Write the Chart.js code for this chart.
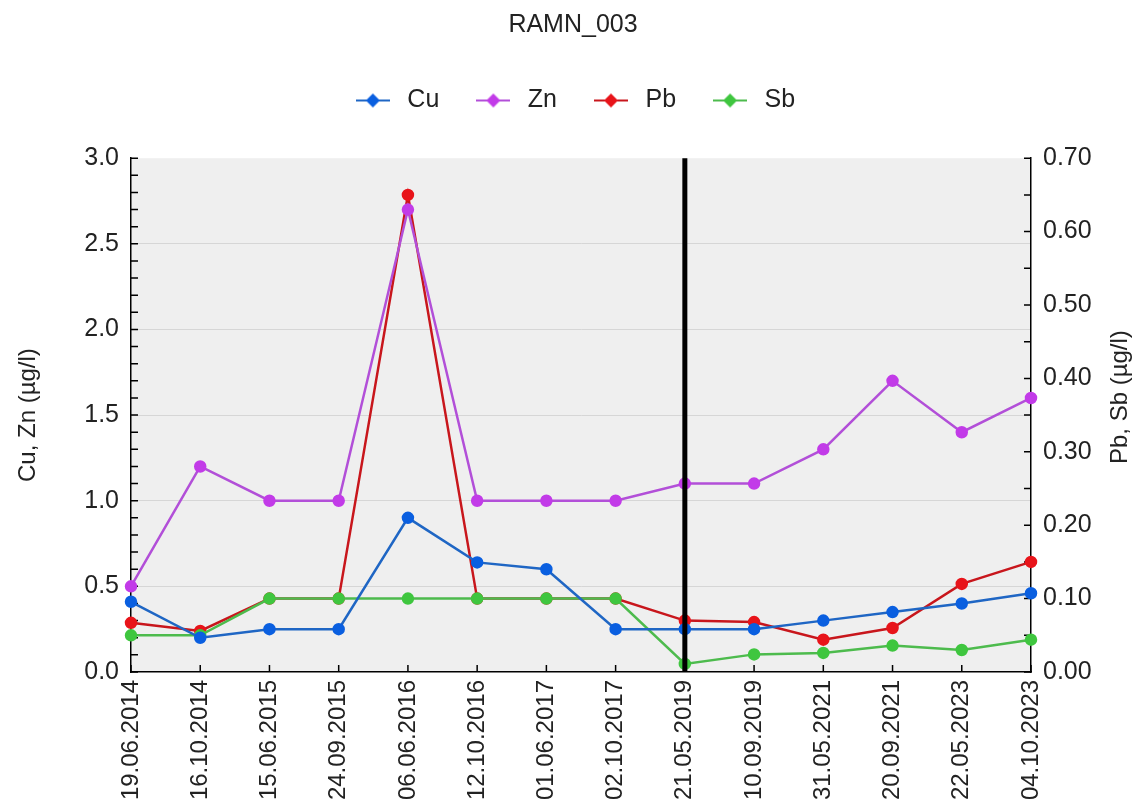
<!DOCTYPE html>
<html>
<head>
<meta charset="utf-8">
<title>RAMN_003</title>
<script src="https://cdn.jsdelivr.net/npm/chart.js@4.4.1/dist/chart.umd.min.js"></script>
<style>
    html, body { margin: 0; padding: 0; background: #ffffff; }
    canvas { display: block; }
</style>
</head>
<body>
<canvas id="grafRamn" width="1146" height="811"></canvas>
<script>
// Datumi vzorčenja (kategorije na osi x)
const sampleDates = [
    "19.06.2014", "16.10.2014", "15.06.2015", "24.09.2015", "06.06.2016",
    "12.10.2016", "01.06.2017", "02.10.2017", "21.05.2019", "10.09.2019",
    "31.05.2021", "20.09.2021", "22.05.2023", "04.10.2023"
];

// Cu in Zn (leva os, µg/l)
const cuValues = [0.41, 0.20, 0.25, 0.25, 0.90, 0.64, 0.60, 0.25, 0.25, 0.25, 0.30, 0.35, 0.40, 0.46];
const znValues = [0.50, 1.20, 1.00, 1.00, 2.70, 1.00, 1.00, 1.00, 1.10, 1.10, 1.30, 1.70, 1.40, 1.60];

// Pb in Sb (desna os, µg/l)
const pbValues = [0.067, 0.056, 0.10, 0.10, 0.65, 0.10, 0.10, 0.10, 0.070, 0.068, 0.044, 0.060, 0.120, 0.150];
const sbValues = [0.050, 0.050, 0.10, 0.10, 0.10, 0.10, 0.10, 0.10, 0.011, 0.024, 0.026, 0.036, 0.030, 0.044];

// Osi
const leftAxisMax = 3.0;
const rightAxisMax = 0.70;
const leftAxisTitle = "Cu, Zn (µg/l)";
const rightAxisTitle = "Pb, Sb (µg/l)";
const chartTitle = "RAMN_003";
const markerDate = "21.05.2019"; // navpična črna črta

const fontFamily = "'Liberation Sans', Arial, sans-serif";
const textColor = "#222222";

// Sivo ozadje risalne površine
const plotBackground = {
    id: "plotBackground",
    beforeDraw(chart) {
        const { ctx, chartArea: a } = chart;
        ctx.save();
        ctx.fillStyle = "#efefef";
        ctx.fillRect(a.left, a.top, a.right - a.left, a.bottom - a.top);
        ctx.restore();
    }
};

// Kratke oznake na osi, obrnjene navznoter
const innerTicks = {
    id: "innerTicks",
    beforeDatasetsDraw(chart) {
        const { ctx, chartArea: a, scales } = chart;
        const len = 7;
        ctx.save();
        ctx.strokeStyle = "#000000";
        ctx.lineWidth = 1.5;
        ctx.beginPath();
        scales.y.ticks.forEach((t, i) => {
            const y = scales.y.getPixelForTick(i);
            ctx.moveTo(a.left, y);
            ctx.lineTo(a.left + len, y);
        });
        scales.y2.ticks.forEach((t, i) => {
            const y = scales.y2.getPixelForTick(i);
            ctx.moveTo(a.right - len, y);
            ctx.lineTo(a.right, y);
        });
        scales.x.ticks.forEach((t, i) => {
            const x = scales.x.getPixelForTick(i);
            ctx.moveTo(x, a.bottom);
            ctx.lineTo(x, a.bottom - len);
        });
        ctx.stroke();
        ctx.restore();
    }
};

// Navpična črta pri izbranem datumu
const markerLine = {
    id: "markerLine",
    afterDatasetsDraw(chart) {
        const { ctx, chartArea: a, scales } = chart;
        const x = scales.x.getPixelForValue(sampleDates.indexOf(markerDate));
        ctx.save();
        ctx.strokeStyle = "#000000";
        ctx.lineWidth = 5;
        ctx.beginPath();
        ctx.moveTo(x, a.top);
        ctx.lineTo(x, a.bottom);
        ctx.stroke();
        ctx.restore();
    }
};

// Naslov desne osi (bere se od spodaj navzgor)
const rightTitle = {
    id: "rightTitle",
    afterDraw(chart) {
        const { ctx, chartArea: a } = chart;
        ctx.save();
        ctx.translate(a.right + 89, (a.top + a.bottom) / 2 - 18);
        ctx.rotate(-Math.PI / 2);
        ctx.font = "24px " + fontFamily;
        ctx.fillStyle = textColor;
        ctx.textAlign = "center";
        ctx.textBaseline = "middle";
        ctx.fillText(rightAxisTitle, 0, 0);
        ctx.restore();
    }
};

// Ikona legende: črta z rombom
function legendIcon(lineColor, fillColor) {
    const c = document.createElement("canvas");
    c.width = 34;
    c.height = 18;
    const g = c.getContext("2d");
    g.strokeStyle = lineColor;
    g.lineWidth = 2;
    g.beginPath();
    g.moveTo(0, 9);
    g.lineTo(34, 9);
    g.stroke();
    g.fillStyle = fillColor;
    g.beginPath();
    g.moveTo(17, 2);
    g.lineTo(24, 9);
    g.lineTo(17, 16);
    g.lineTo(10, 9);
    g.closePath();
    g.fill();
    return c;
}

const seriesColors = [
    { line: "#1f66c4", point: "#0a5fe0" }, // Cu
    { line: "#b24fd8", point: "#c23be8" }, // Zn
    { line: "#c8161c", point: "#e8141a" }, // Pb
    { line: "#4dbb4d", point: "#3fc63f" }  // Sb
];
const legendIcons = seriesColors.map(c => legendIcon(c.line, c.point));

function isStep(value, step) {
    const r = value / step;
    return Math.abs(r - Math.round(r)) < 1e-6;
}

function makeDataset(label, values, axis, colors, order) {
    return {
        label: label,
        data: values,
        yAxisID: axis,
        borderColor: colors.line,
        backgroundColor: colors.point,
        pointBackgroundColor: colors.point,
        pointBorderColor: colors.point,
        borderWidth: 2.5,
        pointRadius: 5,
        pointHoverRadius: 5,
        tension: 0,
        fill: false,
        order: order
    };
}

const ctx = document.getElementById("grafRamn").getContext("2d");

new Chart(ctx, {
    type: "line",
    data: {
        labels: sampleDates,
        datasets: [
            makeDataset("Cu", cuValues, "y", seriesColors[0], 0),
            makeDataset("Zn", znValues, "y", seriesColors[1], 2),
            makeDataset("Pb", pbValues, "y2", seriesColors[2], 3),
            makeDataset("Sb", sbValues, "y2", seriesColors[3], 1)
        ]
    },
    plugins: [plotBackground, innerTicks, markerLine, rightTitle],
    options: {
        responsive: false,
        animation: false,
        devicePixelRatio: 1,
        layout: { padding: 0 },
        plugins: {
            title: {
                display: true,
                text: chartTitle,
                color: textColor,
                font: { family: fontFamily, size: 25, weight: "normal" },
                padding: { top: 10, bottom: 16 }
            },
            legend: {
                display: true,
                position: "top",
                labels: {
                    usePointStyle: true,
                    pointStyleWidth: 44,
                    padding: 32,
                    color: textColor,
                    font: { family: fontFamily, size: 25 },
                    generateLabels(chart) {
                        const items = Chart.defaults.plugins.legend.labels.generateLabels(chart);
                        items.sort((p, q) => p.datasetIndex - q.datasetIndex);
                        items.forEach(it => { it.pointStyle = legendIcons[it.datasetIndex]; });
                        return items;
                    }
                }
            },
            // prazen podnaslov kot razmik med legendo in grafom
            subtitle: {
                display: true,
                text: "",
                weight: 500,
                font: { size: 1 },
                padding: { top: 34, bottom: 0 }
            },
            tooltip: { enabled: false }
        },
        scales: {
            x: {
                type: "category",
                offset: false,
                grid: { display: true, drawOnChartArea: false, drawTicks: false },
                border: { display: true, color: "#000000", width: 1.5 },
                ticks: {
                    autoSkip: false,
                    maxRotation: 90,
                    minRotation: 90,
                    padding: 8,
                    color: textColor,
                    font: { family: fontFamily, size: 24 }
                },
                afterFit(scale) { scale.height = 139; }
            },
            y: {
                position: "left",
                min: 0,
                max: leftAxisMax,
                grid: {
                    drawTicks: false,
                    lineWidth: 1,
                    color(c) {
                        const v = c.tick ? c.tick.value : 0;
                        if (v <= 0 || v >= leftAxisMax || !isStep(v, 0.5)) return "rgba(0,0,0,0)";
                        return "#d6d6d6";
                    }
                },
                border: { display: true, color: "#000000", width: 1.5 },
                ticks: {
                    stepSize: 0.1,
                    autoSkip: false,
                    padding: 12,
                    color: textColor,
                    font: { family: fontFamily, size: 25 },
                    callback: function (value) {
                        return isStep(value, 0.5) ? Number(value).toFixed(1) : "";
                    }
                },
                title: {
                    display: true,
                    text: leftAxisTitle,
                    color: textColor,
                    font: { family: fontFamily, size: 24 },
                    padding: { top: 14, bottom: 0 }
                },
                afterFit(scale) { scale.width = 131; }
            },
            y2: {
                position: "right",
                min: 0,
                max: rightAxisMax,
                grid: { drawOnChartArea: false, drawTicks: false },
                border: { display: true, color: "#000000", width: 1.5 },
                ticks: {
                    stepSize: 0.05,
                    autoSkip: false,
                    padding: 12,
                    color: textColor,
                    font: { family: fontFamily, size: 25 },
                    callback: function (value) {
                        return isStep(value, 0.1) ? Number(value).toFixed(2) : "";
                    }
                },
                afterFit(scale) { scale.width = 115; }
            }
        }
    }
});
</script>
</body>
</html>
